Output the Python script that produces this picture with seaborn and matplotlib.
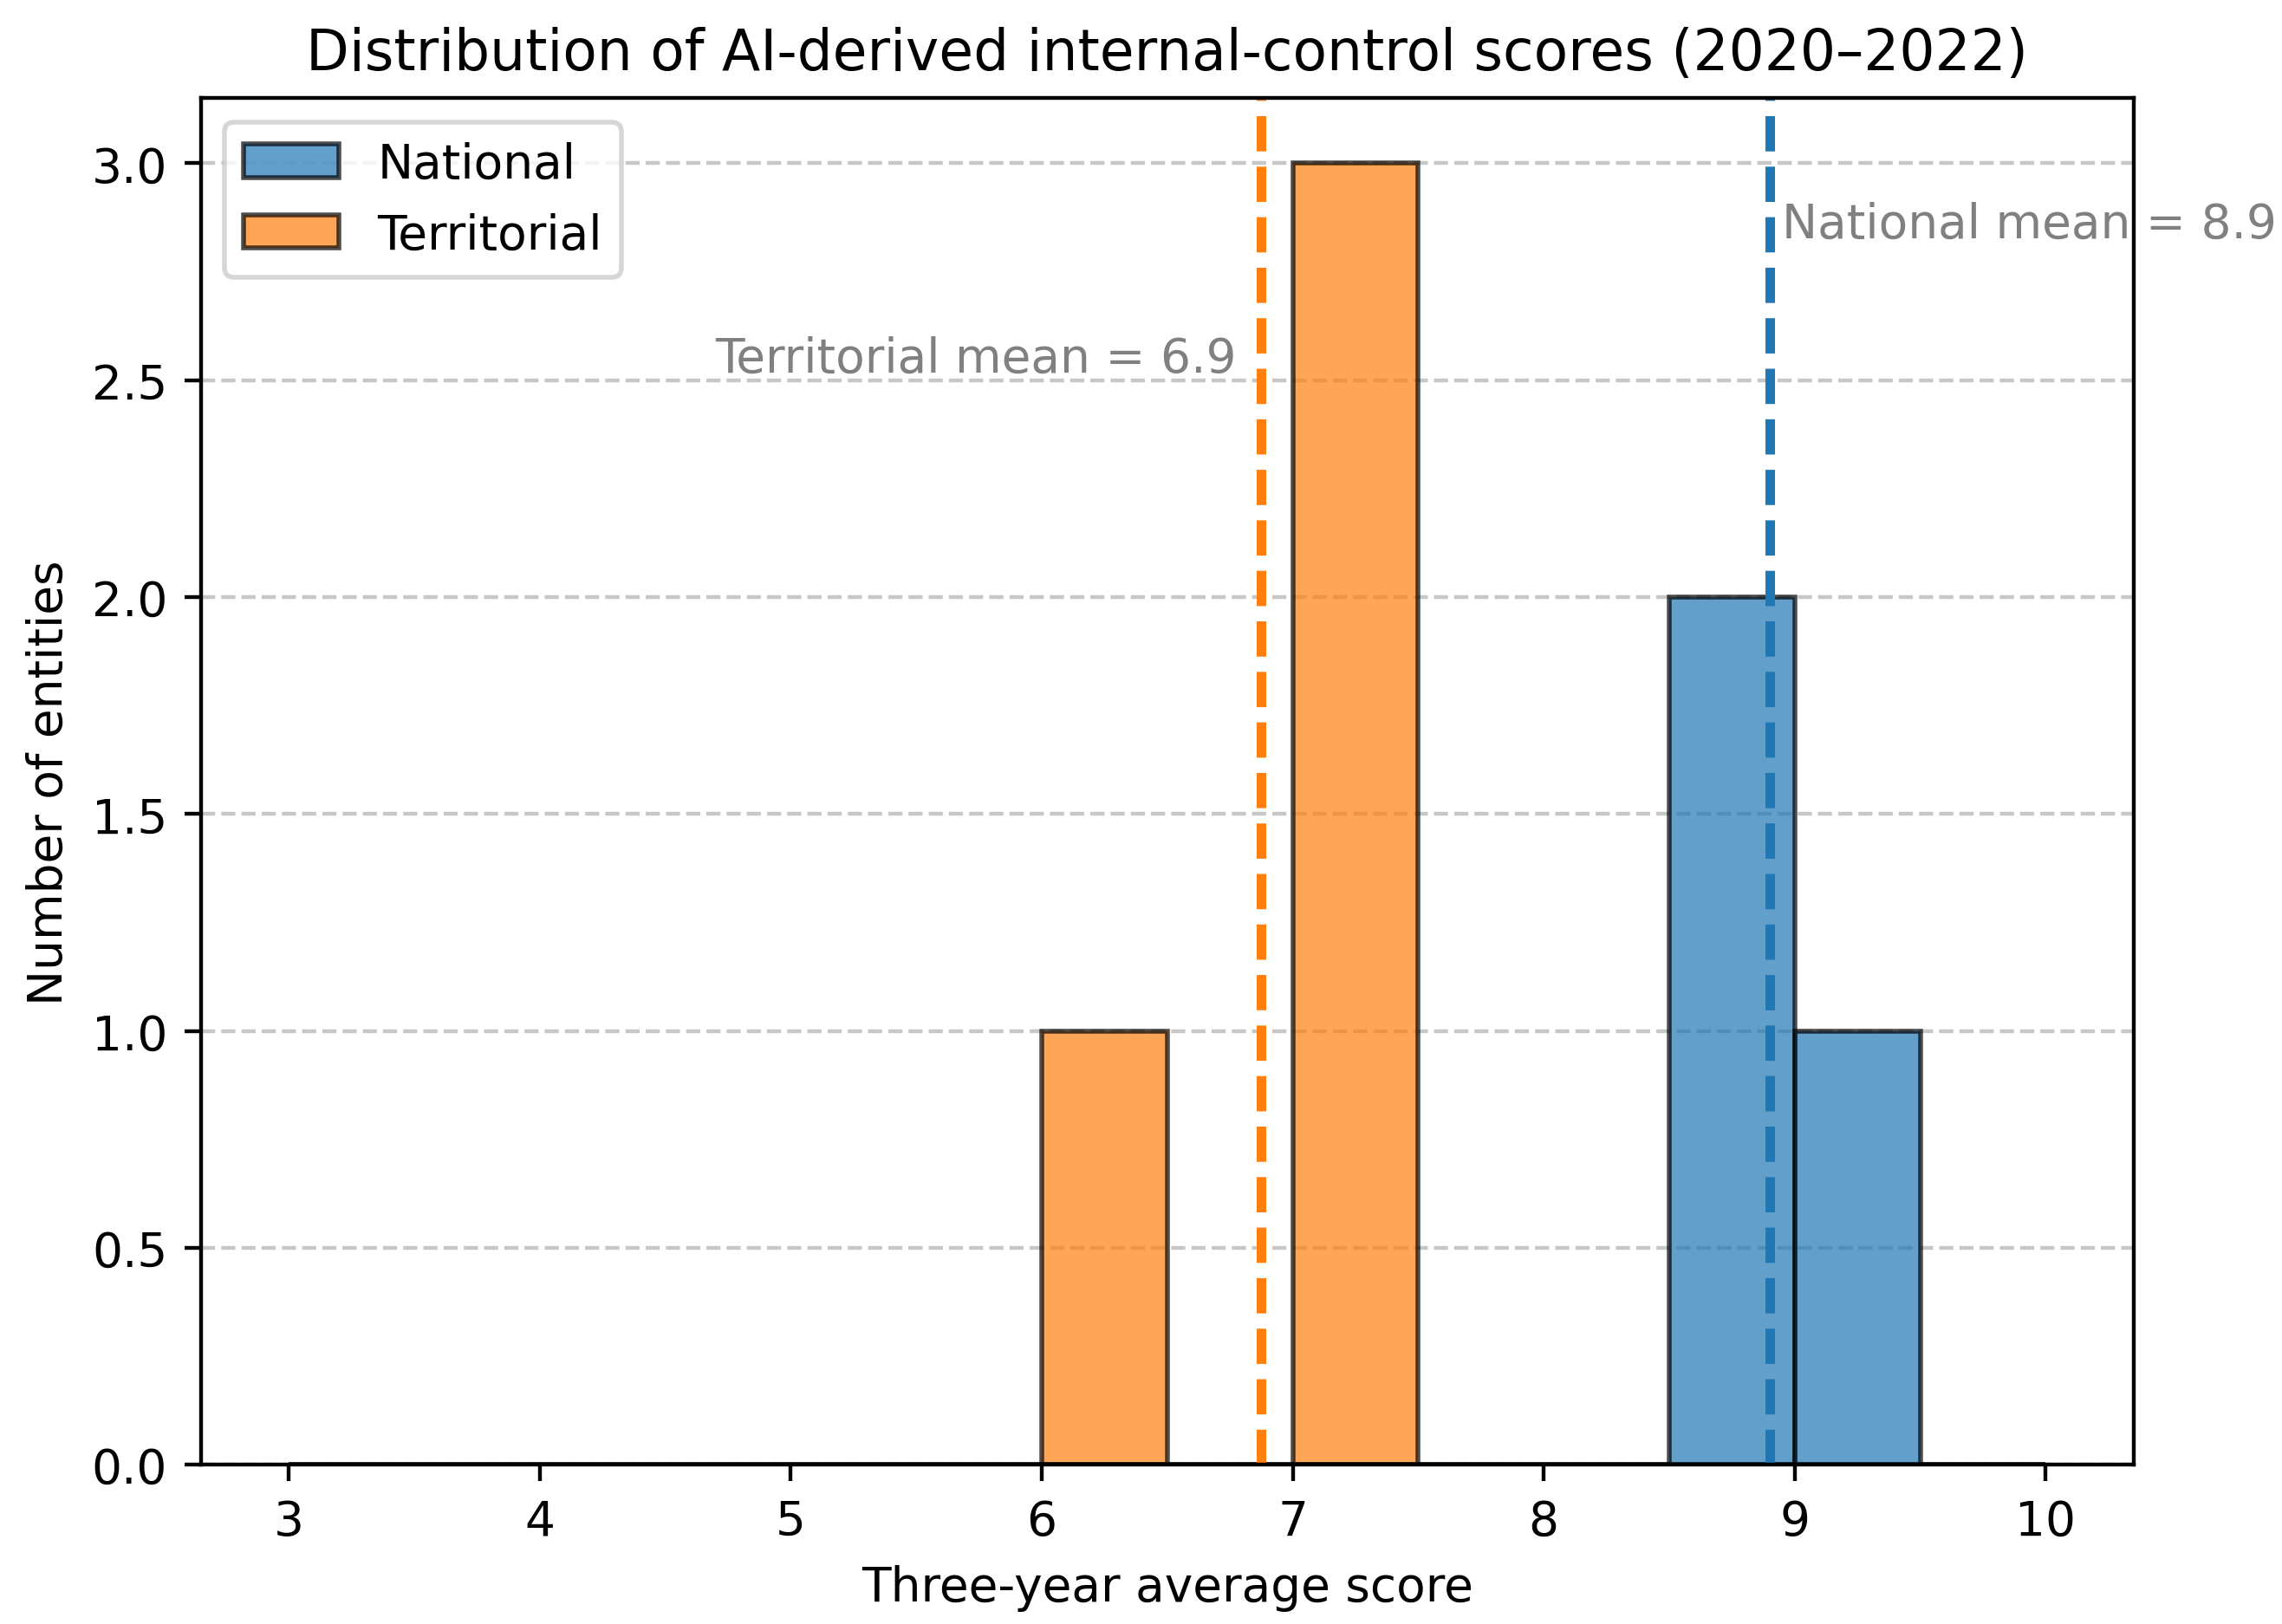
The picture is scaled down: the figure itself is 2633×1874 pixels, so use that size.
import numpy as np
import pandas as pd
import seaborn as sns
import matplotlib
matplotlib.use("Agg")
import matplotlib.pyplot as plt

# 3-year average scores per entity
national_scores = [8.7, 8.9, 9.1]
territorial_scores = [6.2, 7.0, 7.1, 7.2]
groups = ["National", "Territorial"]
group_colors = ["#1f77b4", "#ff7f0e"]

df = pd.DataFrame({
    "score": national_scores + territorial_scores,
    "group": ["National"] * len(national_scores) + ["Territorial"] * len(territorial_scores),
})

DPI = 396
fig, ax = plt.subplots(figsize=(2633 / DPI, 1875 / DPI), dpi=DPI)
fig.subplots_adjust(left=0.088, right=0.935, top=0.939, bottom=0.098)

sns.histplot(
    data=df,
    x="score",
    hue="group",
    hue_order=groups,
    palette=group_colors,
    binrange=(3, 10),
    binwidth=0.5,
    multiple="layer",
    alpha=0.7,
    edgecolor=(0, 0, 0, 0.7),
    linewidth=1,
    ax=ax,
)

# mean lines and labels
nat_mean = np.mean(national_scores)
ter_mean = np.mean(territorial_scores)
ax.axvline(nat_mean, color=group_colors[0], linestyle="--", linewidth=2)
ax.axvline(ter_mean, color=group_colors[1], linestyle="--", linewidth=2)
ax.text(nat_mean + 0.05, 2.86, f"National mean = {nat_mean:.1f}",
        color="gray", fontsize=10, ha="left", va="center", clip_on=False)
ax.text(ter_mean - 0.10, 2.55, f"Territorial mean = {ter_mean:.1f}",
        color="gray", fontsize=10, ha="right", va="center")

ax.grid(axis="y", linestyle="--", alpha=0.7)
ax.set_axisbelow(True)

ax.set_title("Distribution of AI-derived internal-control scores (2020–2022)", fontsize=11.75)
ax.set_xlabel("Three-year average score")
ax.set_ylabel("Number of entities")

sns.move_legend(ax, "upper left", title=None)

fig.savefig("out.png", dpi=DPI)
